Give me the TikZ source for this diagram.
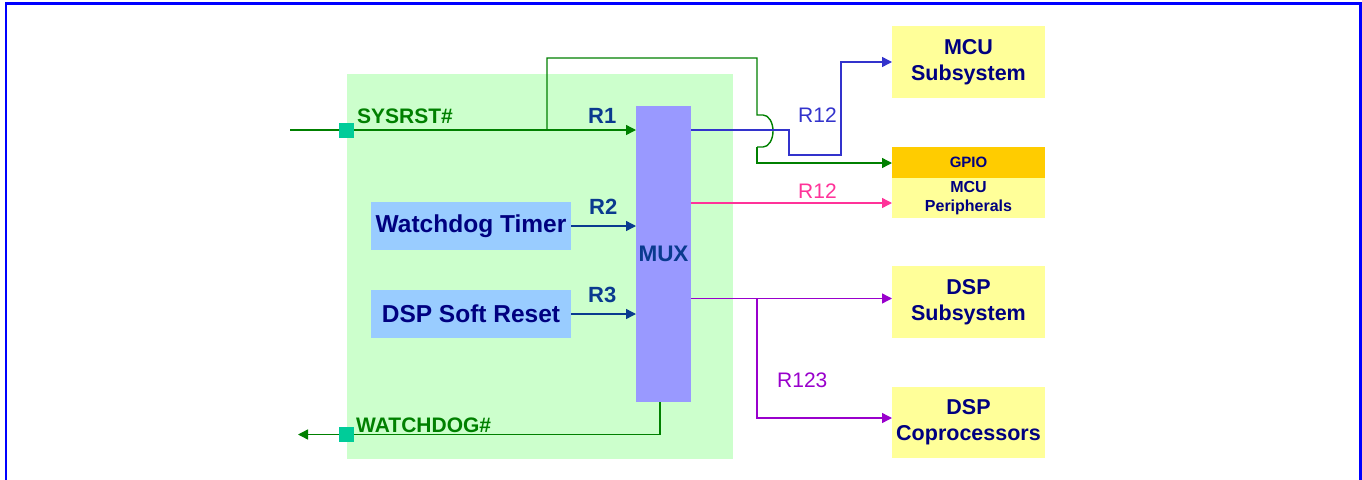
\documentclass[tikz,border=0pt]{standalone}
\usepackage{fontspec}
\setmainfont{Liberation Sans}
\usetikzlibrary{arrows.meta}
\definecolor{frameblue}{HTML}{0000FF}
\definecolor{panelgreen}{HTML}{CCFFCC}
\definecolor{sigGreen}{HTML}{008000}
\definecolor{padgreen}{HTML}{00CC99}
\definecolor{muxblue}{HTML}{9999FF}
\definecolor{srcblue}{HTML}{99CCFF}
\definecolor{boxyellow}{HTML}{FFFF99}
\definecolor{gpioorange}{HTML}{FFCC00}
\definecolor{navytext}{HTML}{000080}
\definecolor{rblue}{HTML}{0A3A8F}
\definecolor{lineblue}{HTML}{3333CC}
\definecolor{linepink}{HTML}{FF3399}
\definecolor{linepurple}{HTML}{9900CC}
\tikzset{
  x=1pt, y=-1pt,
  box/.style={draw=none, inner sep=0pt, outer sep=0pt, align=center},
  tgt/.style={box, fill=boxyellow, minimum width=153pt, text=navytext,
     font=\fontsize{21.5}{26}\selectfont\bfseries},
  src/.style={box, fill=srcblue, minimum width=200pt, minimum height=48pt, text=navytext,
     font=\fontsize{24.5}{26}\selectfont\bfseries},
  lbl/.style={inner sep=0pt, anchor=base west},
  wire/.style={line width=1.4pt},
  arr/.style={wire, -{Triangle[length=10pt,width=10pt]}},
  pad/.style={draw=none, fill=padgreen, minimum size=15pt, inner sep=0pt},
}
\begin{document}
\begin{tikzpicture}
\useasboundingbox (0,0) rectangle (1362,479);
\clip (0,0) rectangle (1362,479);
% frame
\draw[frameblue, line width=2.2pt] (6,3.5) rectangle (1360.5,520);
% panel
\node[box, fill=panelgreen, minimum width=386pt, minimum height=385pt] (panel) at (540,266.5) {};
% sources
\node[src] (wdt) at (471,226) {Watchdog Timer};
\node[src] (dsr) at (471,314) {DSP Soft Reset};
% mux
\node[box, fill=muxblue, minimum width=55pt, minimum height=296pt, text=rblue,
      font=\fontsize{22.5}{26}\selectfont\bfseries] (mux) at (663.5,254) {MUX};
% targets
\node[tgt, minimum height=72pt] (mcu) at (968.5,62) {MCU\\Subsystem};
\node[box, fill=gpioorange, minimum width=153pt, minimum height=31pt, text=navytext,
      font=\fontsize{15}{18}\selectfont\bfseries] (gpio) at (968.5,162.5) {GPIO};
\node[box, fill=boxyellow, minimum width=153pt, minimum height=40pt, text=navytext,
      font=\fontsize{16}{19}\selectfont\bfseries] (per) at (968.5,198) {MCU\\Peripherals};
\node[tgt, minimum height=72pt] (dsp) at (968.5,302) {DSP\\Subsystem};
\node[tgt, minimum height=71pt] (cop) at (968.5,422.5) {DSP\\Coprocessors};
% pads
\node[pad] (padin) at (346.5,130) {};
\node[pad] (padout) at (346.5,434.5) {};
% coordinates
\coordinate (sysin) at (290,130);
\coordinate (wdend) at (298,434.5);
\coordinate (br1) at (547,130);
\coordinate (jx) at (757,58);
\coordinate (bx) at (789,130);
\coordinate (bx2) at (841,155);
\coordinate (pbr) at (757,298.5);
% SYSRST
\draw[sigGreen, wire] (sysin) -- (padin.west);
\draw[sigGreen, arr] (padin.east) -- (mux.west |- padin);
\draw[sigGreen, wire] (br1) -- (br1 |- jx) -- (jx) -- (757,115) -- (763,115)
   arc[start angle=90, end angle=-90, x radius=10pt, y radius=16pt] -- (757,147);
\draw[sigGreen, arr] (757,147) -- (757,163) -- (gpio.west |- 757,163);
% blue R12
\draw[lineblue, arr] (mux.east |- bx) -- (bx) -- (bx |- bx2) -- (bx2) -- (bx2 |- mcu.west) -- (mcu.west);
% pink R12
\draw[linepink, arr] (mux.east |- 0,203) -- (per.west |- 0,203);
% purple R123
\draw[linepurple, arr] (mux.east |- pbr) -- (dsp.west |- pbr);
\draw[linepurple, arr] (pbr) -- (pbr |- 0,418) -- (cop.west |- 0,418);
% R2 R3
\draw[rblue, arr] (wdt.east) -- (mux.west |- wdt.east);
\draw[rblue, arr] (dsr.east) -- (mux.west |- dsr.east);
% watchdog out
\draw[sigGreen, wire] (mux.south -| 660,0) -- (660,434.5) -- (padout.east);
\draw[sigGreen, arr] (padout.west) -- (wdend);
% labels
\node[lbl, text=sigGreen, font=\fontsize{21}{24}\selectfont\bfseries] (tsys) at (357,123) {SYSRST\#};
\node[lbl, text=sigGreen, font=\fontsize{21}{24}\selectfont\bfseries] (twd) at (356,432) {WATCHDOG\#};
\node[lbl, text=rblue, font=\fontsize{22}{24}\selectfont\bfseries] (tr1) at (588,123) {R1};
\node[lbl, text=rblue, font=\fontsize{22}{24}\selectfont\bfseries] (tr2) at (589,214) {R2};
\node[lbl, text=rblue, font=\fontsize{22}{24}\selectfont\bfseries] (tr3) at (588,302) {R3};
\node[lbl, text=lineblue, font=\fontsize{21}{24}\selectfont] (tr12a) at (798,122) {R12};
\node[lbl, text=linepink, font=\fontsize{21}{24}\selectfont] (tr12b) at (798,198) {R12};
\node[lbl, text=linepurple, font=\fontsize{21}{24}\selectfont] (tr123) at (777,387) {R123};
\end{tikzpicture}
\end{document}
